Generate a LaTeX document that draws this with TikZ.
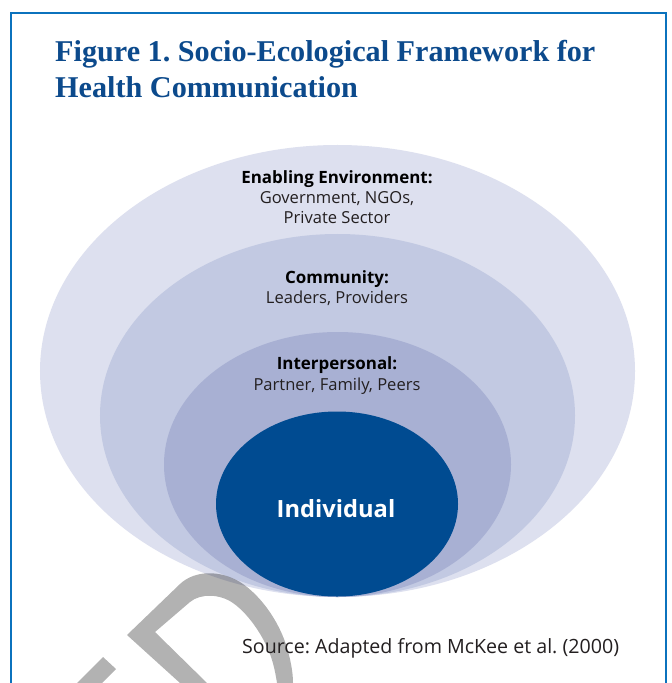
\documentclass[tikz,border=0pt]{standalone}
\usepackage{fontspec}
\usetikzlibrary{shapes.geometric}
\setmainfont{Liberation Serif}
\newfontfamily\labfont{Open Sans}
\frenchspacing
\definecolor{frameblue}{RGB}{11,114,189}
\definecolor{titleblue}{RGB}{12,74,140}
\definecolor{ringenv}{RGB}{221,224,239}
\definecolor{ringcom}{RGB}{194,201,226}
\definecolor{ringint}{RGB}{168,176,211}
\definecolor{indblue}{RGB}{0,75,145}
\definecolor{srcgray}{RGB}{35,31,32}
\tikzset{
  frameline/.style={draw=frameblue, line width=2bp},
  titletext/.style={anchor=base west, inner sep=0, text=titleblue, font=\frenchspacing\fontsize{30.3}{36}\selectfont\bfseries},
  ringhead/.style={anchor=base, inner sep=0, text=black, font=\labfont\fontsize{17}{20}\selectfont\bfseries},
  ringsub/.style={anchor=base, inner sep=0, text=srcgray, font=\labfont\fontsize{16.6}{20}\selectfont},
  indtext/.style={anchor=base, inner sep=0, text=white, font=\labfont\fontsize{23.8}{32}\selectfont\bfseries},
  srctext/.style={anchor=base west, inner sep=0, text=srcgray, font=\frenchspacing\labfont\fontsize{19.7}{24}\selectfont},
  watermark/.style={fill=black, opacity=0.3}
}
\begin{document}
\begin{tikzpicture}[x=1bp,y=-1bp]
\useasboundingbox (0,0) rectangle (672,683);
\fill[white] (0,0) rectangle (672,683);
\draw[frameline] (11,690) -- (11,13) -- (666,13) -- (666,690);

\node[titletext] (title1) at (55,62) {Figure 1. Socio-Ecological Framework for};
\node[titletext] (title2) at (55,98) {Health Communication};

\fill[ringenv] (337.5,371) ellipse [x radius=297.5bp, y radius=226bp];
\fill[ringcom] (337.5,415.5) ellipse [x radius=237.5bp, y radius=181.5bp];
\fill[ringint] (337.5,464.5) ellipse [x radius=173.5bp, y radius=132.5bp];
\node[ellipse, fill=indblue, inner sep=0, minimum width=242bp, minimum height=185bp] (ind) at (337,504) {};

\node[ringhead] (envh) at (337,183) {Enabling Environment:};
\node[ringsub] (envs1) at (337,203) {Government, NGOs,};
\node[ringsub] (envs2) at (337,223) {Private Sector};
\node[ringhead] (comh) at (337,283) {Community:};
\node[ringsub] (coms) at (337,303) {Leaders, Providers};
\node[ringhead] (inth) at (337,369) {Interpersonal:};
\node[ringsub] (ints) at (337,390) {Partner, Family, Peers};
\node[indtext] (indl) at (336,517) {Individual};

% watermark fragments
\fill[watermark, even odd rule]
  (180,683) -- (127,635) -- (180,584)
  .. controls (195,570) and (220,570) .. (240,582)
  .. controls (262,596) and (282,625) .. (289,655)
  .. controls (292,667) and (293,676) .. (293,683) -- cycle
  (207,683) -- (155,632) -- (190,602)
  .. controls (201,593) and (220,594) .. (233,603)
  .. controls (250,615) and (266,640) .. (272,660)
  .. controls (275,670) and (276,677) .. (277,683) -- cycle;
\fill[watermark] (77,683) -- (103,657) -- (116,669) -- (102,683) -- cycle;

\node[srctext] (src) at (242,653) {Source: Adapted from McKee et al. (2000)};
\end{tikzpicture}
\end{document}
